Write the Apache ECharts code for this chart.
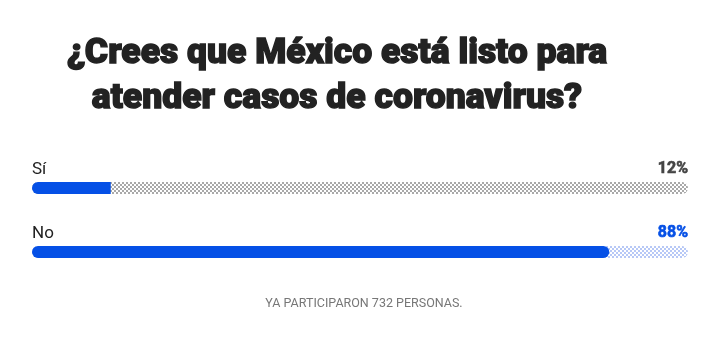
<!DOCTYPE html>
<html>
<head>
<meta charset="utf-8">
<script src="https://cdn.jsdelivr.net/npm/echarts@6/dist/echarts.min.js"></script>
<style>
  html, body { margin: 0; padding: 0; background: #fff; }
  #chart { width: 725px; height: 337px; }
</style>
</head>
<body>
<div id="chart"></div>
<script>
// Poll answers and their shares (percent)
const answers = ['Sí', 'No'];
const shares = [12, 88];
const titleLines = ['¿Crees que México está listo para', 'atender casos de coronavirus?'];
const footerText = 'YA PARTICIPARON 732 PERSONAS.';

const BLUE = '#0550e6';

// Small tiled checkerboard used as the background track of each bar
function checker(a, b) {
  const c = document.createElement('canvas');
  c.width = c.height = 4;
  const g = c.getContext('2d');
  g.fillStyle = b; g.fillRect(0, 0, 4, 4);
  g.fillStyle = a; g.fillRect(0, 0, 2, 2); g.fillRect(2, 2, 2, 2);
  return { image: c, repeat: 'repeat' };
}
const trackFills = [checker('#a9a9a9', '#ffffff'), checker('#b7c8f6', '#ffffff')];
const pctColors = ['#444444', BLUE];
const fillRadius = [[6, 0, 0, 6], [6, 6, 6, 6]];

const chart = echarts.init(document.getElementById('chart'));
chart.setOption({
  animation: false,
  title: [
    {
      text: titleLines.join('\n'),
      left: 332, top: 27, textAlign: 'center',
      textStyle: {
        fontFamily: 'Roboto', fontWeight: 900, fontSize: 35.5, lineHeight: 45, color: '#222',
        textBorderColor: '#222', textBorderWidth: 1.4
      }
    },
    {
      text: footerText,
      left: 359, top: 292, textAlign: 'center',
      textStyle: { fontFamily: 'Roboto', fontWeight: 'normal', fontSize: 12.5, color: '#777' }
    }
  ],
  grid: { left: 32, width: 656, top: 156, height: 128 },
  xAxis: { type: 'value', min: 0, max: 100, show: false },
  yAxis: { type: 'category', data: answers, inverse: true, show: false },
  series: [
    {
      type: 'bar', barWidth: 12, barGap: '-100%', silent: true,
      data: answers.map((a, i) => ({
        value: 100,
        itemStyle: { color: trackFills[i], borderRadius: 6 },
        label: {
          show: true, position: [0, -21], formatter: a,
          fontFamily: 'Roboto', fontSize: 17, color: '#222'
        }
      }))
    },
    {
      type: 'bar', barWidth: 12, silent: true,
      data: shares.map((v, i) => ({
        value: v,
        itemStyle: { color: BLUE, borderRadius: fillRadius[i] },
        label: {
          show: true, position: [656, -21], align: 'right', formatter: v + '%',
          fontFamily: 'Roboto', fontWeight: 'bold', fontSize: 16, color: pctColors[i],
          textBorderColor: pctColors[i], textBorderWidth: 0.6
        }
      }))
    }
  ]
});
</script>
</body>
</html>
